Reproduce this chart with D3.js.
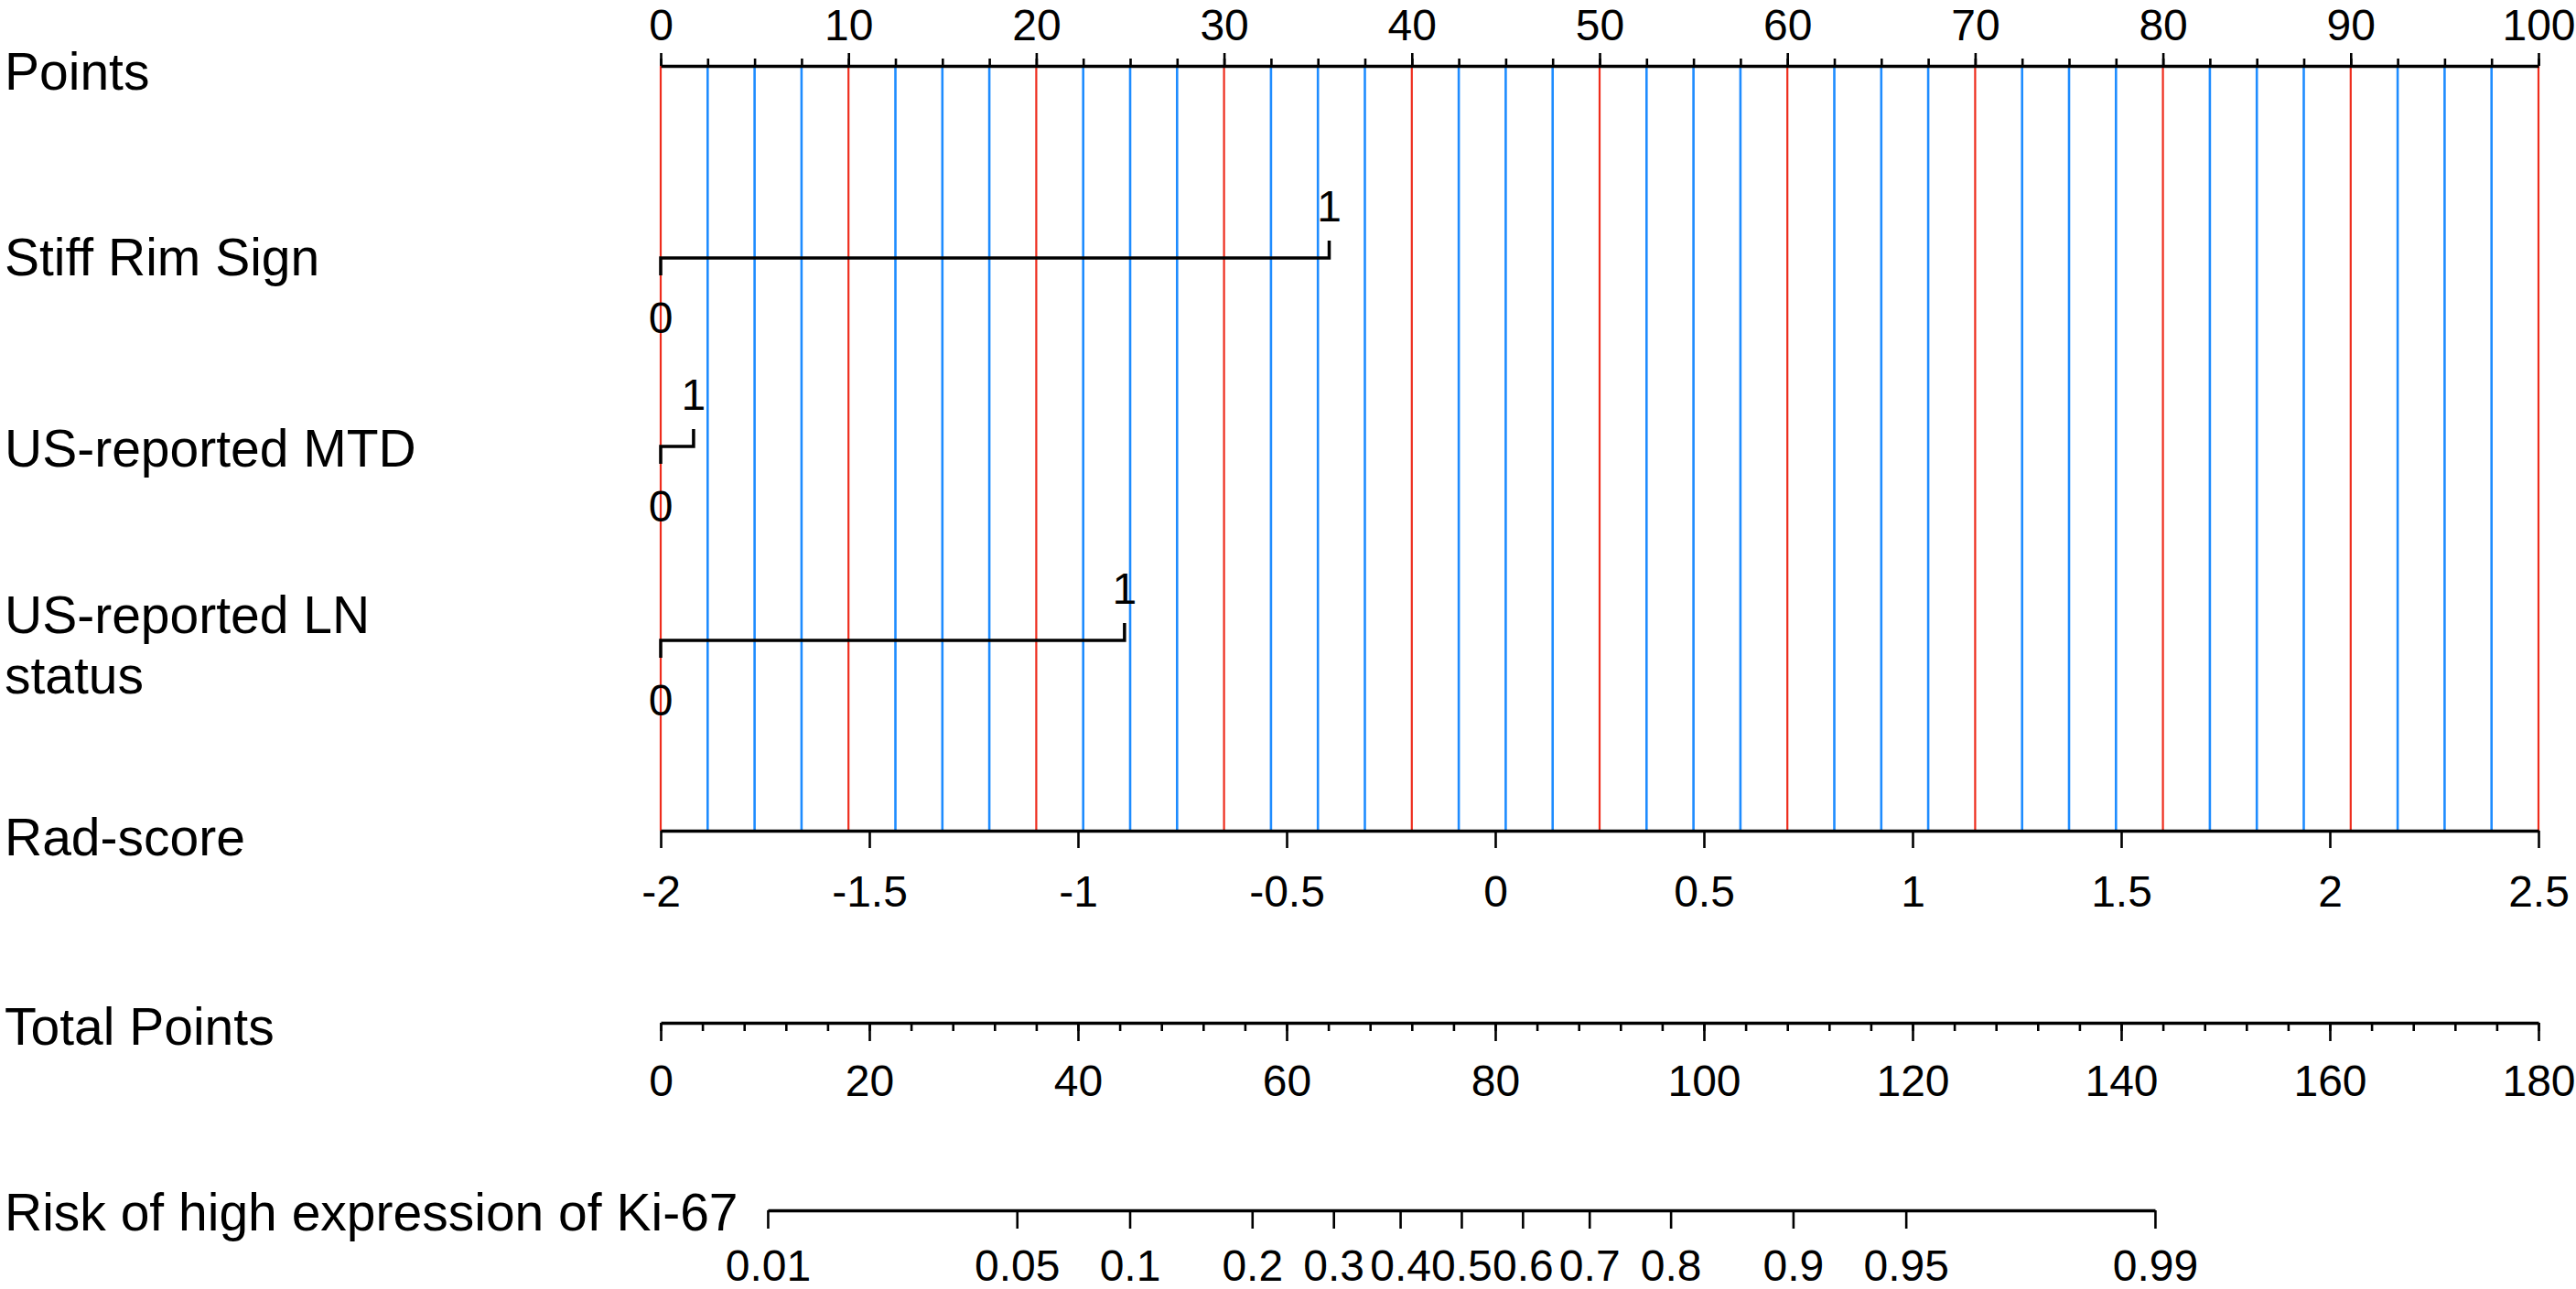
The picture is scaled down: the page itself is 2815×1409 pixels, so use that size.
<!DOCTYPE html>
<html>
<head>
<meta charset="utf-8">
<script src="https://cdn.jsdelivr.net/npm/d3@7"></script>
<style>
  html, body { margin: 0; padding: 0; background: #fff; }
  svg { display: block; }
  text { font-family: "Liberation Sans", Arial, sans-serif; fill: #000; }
</style>
</head>
<body>
<svg id="chart" width="2815" height="1409"></svg>
<script>
// ---------------- data ----------------
const pointsMajorTicks = [0, 10, 20, 30, 40, 50, 60, 70, 80, 90, 100];
const pointsMinorTicks = d3.range(0, 100.01, 2.5);

const variableNames = ["Stiff Rim Sign", "US-reported MTD", "US-reported LN status"];
const variableLevels = ["0", "1"];
const stiffRimPoints = [0, 35.6];
const mtdPoints = [0, 1.75];
const lnPoints = [0, 24.7];

const radScoreTicks = [-2, -1.5, -1, -0.5, 0, 0.5, 1, 1.5, 2, 2.5];
const radScoreRange = [-2, 2.5];          // maps to 0..100 points

const totalMajorTicks = [0, 20, 40, 60, 80, 100, 120, 140, 160, 180];
const totalMinorTicks = d3.range(0, 180.01, 4);

const riskTicks = [0.01, 0.05, 0.1, 0.2, 0.3, 0.4, 0.5, 0.6, 0.7, 0.8, 0.9, 0.95, 0.99];
const riskMidTotalPoints = 76.75;         // total points where risk = 0.5
const riskPointsPerLogit = 14.47;         // total points per logit unit

// ---------------- layout ----------------
const svg = d3.select("#chart");
const X0 = 722, X1 = 2774;
const LABEL_FS = 57, TICK_FS = 48;
const RED = "#EE2C1C", BLUE = "#1E8CFF";
const AXIS_W = 3.5;

const yPoints = 72, yStiff = 282, yMTD = 488, yLN = 700, yRad = 908, yTotal = 1118, yRisk = 1323;

const xPts = d3.scaleLinear().domain([0, 100]).range([X0, X1]);
const xRad = d3.scaleLinear().domain(radScoreRange).range([xPts(0), xPts(100)]);
const xTot = d3.scaleLinear().domain([0, 180]).range([X0, X1]);
const logit = p => Math.log(p / (1 - p));
const riskToTotal = p => riskMidTotalPoints + riskPointsPerLogit * logit(p);

// ---------------- grid lines ----------------
const grid = svg.append("g");
grid.selectAll("line.minor")
  .data(pointsMinorTicks.filter(d => d % 10 !== 0))
  .join("line")
  .attr("x1", d => xPts(d)).attr("x2", d => xPts(d))
  .attr("y1", yPoints).attr("y2", yRad)
  .attr("stroke", BLUE).attr("stroke-width", 2.6);
grid.selectAll("line.major")
  .data(pointsMajorTicks)
  .join("line")
  .attr("x1", d => xPts(d)).attr("x2", d => xPts(d))
  .attr("y1", yPoints).attr("y2", yRad)
  .attr("stroke", RED).attr("stroke-width", 2.2);

// ---------------- helpers ----------------
function styleAxis(g, labelY) {
  g.select(".domain").attr("stroke", "#000").attr("stroke-width", AXIS_W);
  g.selectAll(".tick line").attr("stroke", "#000").attr("stroke-width", 2.6);
  g.selectAll(".tick text")
    .attr("y", labelY).attr("dy", null)
    .style("font-size", TICK_FS + "px")
    .style("font-family", "'Liberation Sans', Arial, sans-serif")
    .attr("fill", "#000");
  g.attr("font-family", null).attr("font-size", null);
}
function rowLabel(lines, baseline) {
  const t = svg.append("text")
    .attr("x", 5).attr("y", baseline)
    .style("font-size", LABEL_FS + "px");
  lines.forEach((s, i) => {
    t.append("tspan").attr("x", 5).attr("dy", i === 0 ? 0 : 66).text(s);
  });
}

// ---------------- Points axis ----------------
svg.append("g").attr("transform", `translate(0,${yPoints})`)
  .call(d3.axisTop(xPts).tickValues(pointsMinorTicks).tickSize(8).tickSizeOuter(0).tickFormat(""))
  .call(g => { g.select(".domain").remove(); g.selectAll(".tick line").attr("stroke", "#000").attr("stroke-width", 2.6); });
svg.append("g").attr("transform", `translate(0,${yPoints})`)
  .call(d3.axisTop(xPts).tickValues(pointsMajorTicks).tickSize(14).tickSizeOuter(0).tickFormat(d => String(d)))
  .call(g => styleAxis(g, -28));
rowLabel(["Points"], 98);

// ---------------- binary variables ----------------
const binaryRows = [
  { name: [variableNames[0]], pts: stiffRimPoints, y: yStiff, labelBase: 301 },
  { name: [variableNames[1]], pts: mtdPoints, y: yMTD, labelBase: 510 },
  { name: ["US-reported LN", "status"], pts: lnPoints, y: yLN, labelBase: 692 }
];
binaryRows.forEach(r => {
  const x0 = xPts(r.pts[0]), x1 = xPts(r.pts[1]);
  const path = d3.path();
  path.moveTo(x0, r.y + 19);
  path.lineTo(x0, r.y);
  path.lineTo(x1, r.y);
  path.lineTo(x1, r.y - 19);
  svg.append("path").attr("d", path.toString())
    .attr("fill", "none").attr("stroke", "#000").attr("stroke-width", AXIS_W);
  svg.append("text").attr("x", x0).attr("y", r.y + 82)
    .attr("text-anchor", "middle").style("font-size", TICK_FS + "px").text(variableLevels[0]);
  svg.append("text").attr("x", x1).attr("y", r.y - 40)
    .attr("text-anchor", "middle").style("font-size", TICK_FS + "px").text(variableLevels[1]);
  rowLabel(r.name, r.labelBase);
});

// ---------------- Rad-score axis ----------------
svg.append("g").attr("transform", `translate(0,${yRad})`)
  .call(d3.axisBottom(xRad).tickValues(radScoreTicks).tickSize(19).tickSizeOuter(0).tickFormat(d => String(d)))
  .call(g => styleAxis(g, 83));
rowLabel(["Rad-score"], 935);

// ---------------- Total Points axis ----------------
svg.append("g").attr("transform", `translate(0,${yTotal})`)
  .call(d3.axisBottom(xTot).tickValues(totalMinorTicks).tickSize(9).tickSizeOuter(0).tickFormat(""))
  .call(g => { g.select(".domain").remove(); g.selectAll(".tick line").attr("stroke", "#000").attr("stroke-width", 2.6); });
svg.append("g").attr("transform", `translate(0,${yTotal})`)
  .call(d3.axisBottom(xTot).tickValues(totalMajorTicks).tickSize(20).tickSizeOuter(0).tickFormat(d => String(d)))
  .call(g => styleAxis(g, 80));
rowLabel(["Total Points"], 1142);

// ---------------- Risk axis ----------------
const riskLo = riskToTotal(riskTicks[0]), riskHi = riskToTotal(riskTicks[riskTicks.length - 1]);
const xRisk = d3.scaleLinear().domain([riskLo, riskHi]).range([xTot(riskLo), xTot(riskHi)]);
svg.append("g").attr("transform", `translate(0,${yRisk})`)
  .call(d3.axisBottom(xRisk).tickValues(riskTicks.map(riskToTotal)).tickSize(20).tickSizeOuter(0)
    .tickFormat((d, i) => String(riskTicks[i])))
  .call(g => styleAxis(g, 77));
rowLabel(["Risk of high expression of Ki-67"], 1345);
</script>
</body>
</html>
